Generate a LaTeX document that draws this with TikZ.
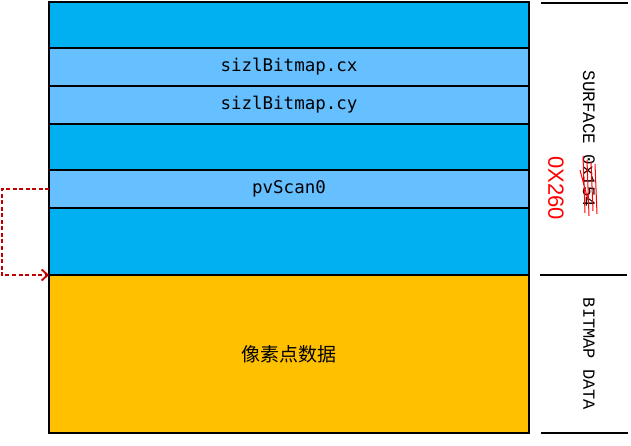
\documentclass[tikz,border=0pt]{standalone}
\usepackage{fontspec}
\setmonofont{DejaVu Sans Mono}
\newfontfamily\cjkfont{Noto Sans CJK SC}
\newfontfamily\labelsans{Liberation Sans}
\newfontfamily\labelmono{Liberation Mono}
\usetikzlibrary{arrows.meta,positioning}
\definecolor{fielddark}{HTML}{00B0F0}
\definecolor{fieldlight}{HTML}{66BFFF}
\definecolor{pixelgold}{HTML}{FFC000}
\definecolor{ptrred}{HTML}{C00000}

\tikzset{
    cell/.style={draw=black, line width=1.8pt, minimum width=480pt, outer sep=0pt, inner sep=0pt, font=\ttfamily\fontsize{17.5}{19}\selectfont},
    darkcell/.style={cell, fill=fielddark},
    lightcell/.style={cell, fill=fieldlight},
    pixelcell/.style={cell, fill=pixelgold, font=\cjkfont\fontsize{19}{21}\selectfont},
    ptrarrow/.style={draw=ptrred, line width=1.8pt, dash pattern=on 4pt off 2.5pt, -{Straight Barb[length=6pt,width=11pt]}},
    sidelabel/.style={rotate=-90, inner sep=0pt}
}

\begin{document}
\begin{tikzpicture}[x=1pt, y=-1pt]
        \useasboundingbox (0,0) rectangle (631,446);
        % SURFACE object fields
        \node[darkcell, minimum height=46pt, anchor=north west] (hdr) at (49,2) {};
        \node[lightcell, minimum height=38pt, below=0pt of hdr] (cx) {sizlBitmap.cx};
        \node[lightcell, minimum height=38pt, below=0pt of cx] (cy) {sizlBitmap.cy};
        \node[darkcell, minimum height=46pt, below=0pt of cy] (gap) {};
        \node[lightcell, minimum height=38pt, below=0pt of gap] (scan) {pvScan0};
        \node[darkcell, minimum height=67pt, below=0pt of scan] (tail) {};
        % pixel data
        \node[pixelcell, minimum height=158pt, below=0pt of tail] (data) {像素点数据};

        % pvScan0 points to the data
        \draw[ptrarrow] (scan.west) -- ++(-47,0) |- (data.north west);

        % brackets on the right
        \draw[line width=1.8pt] (541,3) -- (628,3);
        \draw[line width=1.8pt] (540,275) -- (627,275);
        \draw[line width=1.8pt] (541,433) -- (628,433);
        \node[sidelabel, font=\labelmono\fontsize{17.5}{19}\selectfont] (surf) at (589,139) {SURFACE 0x154};
        \node[sidelabel, text=red, font=\labelsans\fontsize{22}{24}\selectfont] (size) at (556,188) {0X260};
        \node[sidelabel, font=\labelmono\fontsize{17}{19}\selectfont] (bmp) at (589,354) {BITMAP DATA};

        % struck out by hand
        \draw[red, line width=1pt]
            (583,156) -- (585,213) (587,160) -- (589,216) (591,162) -- (593,211)
            (595,164) -- (597,214) (580,170) -- (589,204);
    \end{tikzpicture}
\end{document}
